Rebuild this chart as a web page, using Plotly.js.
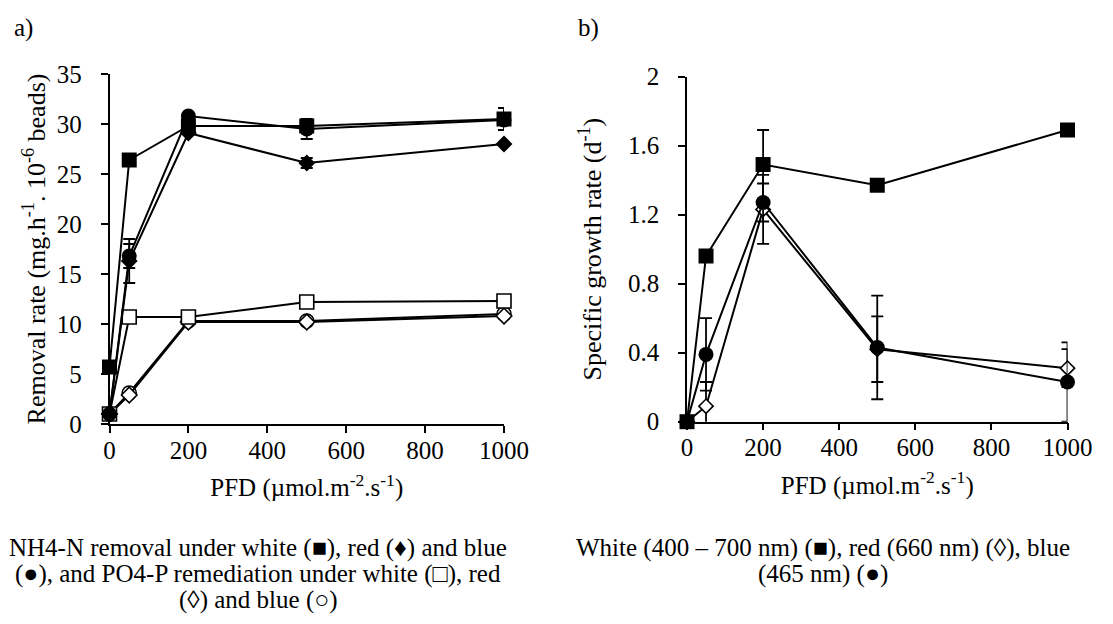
<!DOCTYPE html>
<html>
<head>
<meta charset="utf-8">
<script src="https://cdn.plot.ly/plotly-3.0.1.min.js"></script>
<style>html,body{margin:0;padding:0;background:#fff;}#chart{width:1113px;height:624px;}</style>
</head>
<body>
<div id="chart"></div>
<script>
// ---- Data ----
const pfd = [0, 50, 200, 500, 1000];
const xTicks = [0, 200, 400, 600, 800, 1000];

// Panel a: removal rate (mg.h-1.10-6 beads)
const nh4White = [5.7, 26.4, 29.8, 29.8, 30.5];
const nh4WhiteErr = [0, 0, 0, 0.6, 1.1];
const nh4Red = [1.0, 16.3, 29.1, 26.1, 28.0];
const nh4RedErr = [0, 2.2, 0, 0.5, 0];
const nh4Blue = [1.0, 16.8, 30.8, 29.5, 30.4];
const nh4BlueErr = [0, 1.2, 0, 1.0, 0];
const po4White = [1.0, 10.7, 10.7, 12.2, 12.3];
const po4Red = [1.0, 2.9, 10.2, 10.2, 10.8];
const po4Blue = [1.0, 3.1, 10.3, 10.3, 11.0];
const yTicksA = [0, 5, 10, 15, 20, 25, 30, 35];

// Panel b: specific growth rate (d-1)
const growthWhite = [0, 0.96, 1.49, 1.37, 1.69];
const growthWhiteErr = [0, 0, 0.2, 0, 0];
const growthRed = [0, 0.09, 1.23, 0.42, 0.31];
const growthRedErr = [0, 0.14, 0.2, 0.19, 0.11];
const growthBlue = [0, 0.39, 1.27, 0.43, 0.23];
const growthBlueErr = [0, 0.21, 0.11, 0.3, 0.23];
const yTicksB = [0, 0.4, 0.8, 1.2, 1.6, 2];
const yTickTextB = ['0', '0.4', '0.8', '1.2', '1.6', '2'];

// Caption lines
const captionA = ['NH4-N removal under white (■), red (♦) and blue',
                  '(●), and PO4-P remediation under white (□), red',
                  '(◊) and blue (○)'];
const captionB = ['White (400 – 700 nm) (■), red (660 nm) (◊), blue',
                  '(465 nm) (●)'];

// ---- Styling helpers ----
const FONT = 'Liberation Serif';
const lineStyle = {color: 'black', width: 2};
function errBar(arr) {
  return {type: 'data', array: arr, visible: true, color: 'black', thickness: 1.8, width: 6};
}
function trace(x, y, xa, ya, symbol, size, err, name) {
  const open = symbol.indexOf('open') >= 0;
  const t = {
    x: x, y: y, xaxis: xa, yaxis: ya, type: 'scatter', mode: 'lines+markers',
    name: name, cliponaxis: false, showlegend: false,
    line: lineStyle,
    marker: {symbol: open ? symbol.replace('-open', '') : symbol, size: size,
             color: open ? 'white' : 'black',
             line: {color: 'black', width: open ? 1.6 : 0}}
  };
  if (err) t.error_y = errBar(err);
  return t;
}

const data = [
  trace(pfd, po4Blue, 'x', 'y', 'circle-open', 14, null, 'PO4-P blue'),
  trace(pfd, po4Red, 'x', 'y', 'diamond-open', 12, null, 'PO4-P red'),
  trace(pfd, po4White, 'x', 'y', 'square-open', 14, null, 'PO4-P white'),
  trace(pfd, nh4Red, 'x', 'y', 'diamond', 13, nh4RedErr, 'NH4-N red'),
  trace(pfd, nh4White, 'x', 'y', 'square', 15, nh4WhiteErr, 'NH4-N white'),
  trace(pfd, nh4Blue, 'x', 'y', 'circle', 15, nh4BlueErr, 'NH4-N blue'),

  trace(pfd, growthRed, 'x2', 'y2', 'diamond-open', 11, growthRedErr, 'Red (660 nm)'),
  trace(pfd, growthBlue, 'x2', 'y2', 'circle', 15, growthBlueErr, 'Blue (465 nm)'),
  trace(pfd, growthWhite, 'x2', 'y2', 'square', 15, growthWhiteErr, 'White (400-700 nm)')
];

function xAxis(domain, anchor) {
  return {
    domain: domain, anchor: anchor, range: [0, 1000], tickvals: xTicks,
    showline: true, linecolor: 'black', linewidth: 1.5, ticks: 'outside',
    ticklen: 7, tickwidth: 1.5, tickcolor: 'black', showgrid: false, zeroline: false,
    ticklabelstandoff: -4,
    tickfont: {family: FONT, size: 25, color: 'black'},
    title: {text: 'PFD (µmol.m<sup>-2</sup>.s<sup>-1</sup>)', font: {family: FONT, size: 25, color: 'black'}, standoff: 16}
  };
}
function yAxis(domain, anchor, range, tickvals, ticktext, title, standoff) {
  const a = {
    domain: domain, anchor: anchor, range: range, tickvals: tickvals,
    showline: true, linecolor: 'black', linewidth: 1.5, ticks: 'outside',
    ticklen: 7, tickwidth: 1.5, tickcolor: 'black', showgrid: false, zeroline: false,
    ticklabelstandoff: 14,
    tickfont: {family: FONT, size: 25, color: 'black'},
    title: {text: title, font: {family: FONT, size: 26, color: 'black'}, standoff: standoff}
  };
  if (ticktext) a.ticktext = ticktext;
  return a;
}

const capFont = {family: FONT, size: 25, color: 'black'};
const annotations = [
  {text: 'a)', x: 12 / 1113, y: 1 - 12 / 624, xref: 'paper', yref: 'paper', xanchor: 'left', yanchor: 'top',
   showarrow: false, font: capFont},
  {text: 'b)', x: 576 / 1113, y: 1 - 12 / 624, xref: 'paper', yref: 'paper', xanchor: 'left', yanchor: 'top',
   showarrow: false, font: capFont}
];
const lineY = [548, 574, 600];
captionA.forEach(function (line, i) {
  annotations.push({text: line, x: 258 / 1113, y: 1 - lineY[i] / 624, xref: 'paper', yref: 'paper',
    xanchor: 'center', yanchor: 'middle', showarrow: false, font: capFont});
});
captionB.forEach(function (line, i) {
  annotations.push({text: line, x: 823 / 1113, y: 1 - lineY[i] / 624, xref: 'paper', yref: 'paper',
    xanchor: 'center', yanchor: 'middle', showarrow: false, font: capFont});
});

const layout = {
  width: 1113, height: 624,
  margin: {l: 0, r: 0, t: 0, b: 0},
  paper_bgcolor: 'white', plot_bgcolor: 'white',
  font: {family: FONT, color: 'black', size: 25},
  showlegend: false,
  xaxis: xAxis([109.5 / 1113, 504 / 1113], 'y'),
  yaxis: yAxis([(624 - 424) / 624, (624 - 74) / 624], 'x', [0, 35], yTicksA, null,
               'Removal rate (mg.h<sup>-1</sup>. 10<sup>-6</sup> beads)', 4),
  xaxis2: xAxis([687 / 1113, 1067.5 / 1113], 'y2'),
  yaxis2: yAxis([(624 - 421.7) / 624, (624 - 76.5) / 624], 'x2', [0, 2], yTicksB, yTickTextB,
                'Specific growth rate (d<sup>-1</sup>)', 19),
  annotations: annotations
};

Plotly.newPlot('chart', data, layout, {displayModeBar: false});
</script>
</body>
</html>
